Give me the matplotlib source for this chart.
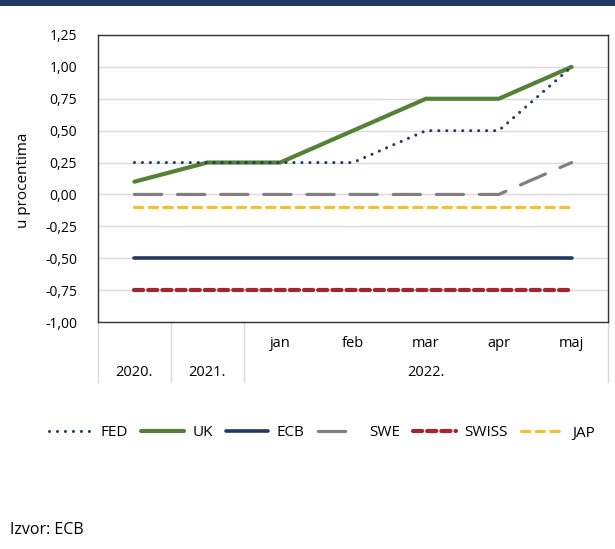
import matplotlib
matplotlib.use("Agg")
import matplotlib.pyplot as plt
from matplotlib.patches import Rectangle
from matplotlib.lines import Line2D
import matplotlib.transforms as mtransforms

plt.rcParams['font.family'] = ['Open Sans', 'DejaVu Sans']

# ---- data ----
categories = ['2020.', '2021.', 'jan', 'feb', 'mar', 'apr', 'maj']
month_labels = ['', '', 'jan', 'feb', 'mar', 'apr', 'maj']
year_labels = ['2020.', '2021.', '2022.']
year_label_pos = [0, 1, 4]
year_separators = [-0.5, 0.5, 1.5, 6.5]

fed = [0.25, 0.25, 0.25, 0.25, 0.50, 0.50, 1.00]
uk = [0.10, 0.25, 0.25, 0.50, 0.75, 0.75, 1.00]
ecb = [-0.50, -0.50, -0.50, -0.50, -0.50, -0.50, -0.50]
swe = [0.00, 0.00, 0.00, 0.00, 0.00, 0.00, 0.25]
swiss = [-0.75, -0.75, -0.75, -0.75, -0.75, -0.75, -0.75]
jap = [-0.10, -0.10, -0.10, -0.10, -0.10, -0.10, -0.10]

y_ticks = [-1.00, -0.75, -0.50, -0.25, 0.00, 0.25, 0.50, 0.75, 1.00, 1.25]
y_tick_labels = ['-1,00', '-0,75', '-0,50', '-0,25', '0,00', '0,25', '0,50', '0,75', '1,00', '1,25']

W, H = 615, 549
fig = plt.figure(figsize=(W / 100, H / 100), dpi=100)

# top navy band
fig.add_artist(Rectangle((0, 1 - 6 / H), 1, 6 / H, transform=fig.transFigure,
                         facecolor='#1e3a5f', edgecolor='none'))

ax_l, ax_r, ax_t, ax_b = 98, 608, 35, 322
ax = fig.add_axes([ax_l / W, 1 - ax_b / H, (ax_r - ax_l) / W, (ax_b - ax_t) / H])

x = list(range(len(categories)))

ax.plot(x, fed, color='#1f3864', lw=2.2, linestyle=(0, (0.01, 2.6)),
        dash_capstyle='round', label='FED', zorder=5)
ax.plot(x, uk, color='#548235', lw=3.0, solid_capstyle='round', label='UK', zorder=4)
ax.plot(x, ecb, color='#1f3864', lw=2.6, solid_capstyle='round', label='ECB', zorder=4)
ax.plot(x, swe, color='#7f7f7f', lw=2.3, linestyle=(0, (8.5, 5.0)),
        dash_capstyle='round', label='SWE', zorder=3)
ax.plot(x, swiss, color='#a5252c', lw=3.0, linestyle=(0, (2.2, 1.2)),
        dash_capstyle='round', label='SWISS', zorder=3)
ax.plot(x, jap, color='#f5bf2f', lw=2.3, linestyle=(0, (2.6, 2.0)),
        dash_capstyle='round', label='JAP', zorder=3)

ax.set_xlim(-0.5, len(categories) - 0.5)
ax.set_ylim(-1.0, 1.25)
ax.set_yticks(y_ticks)
ax.set_yticklabels(y_tick_labels, fontsize=10, color='#000000')
ax.tick_params(axis='y', length=0, pad=15)
ax.set_xticks(x)
ax.set_xticklabels(month_labels, fontsize=10.5, color='#000000')
ax.tick_params(axis='x', length=0, pad=10)

ax.grid(axis='y', color='#d9d9d9', lw=1.0)
ax.set_axisbelow(True)
for s in ax.spines.values():
    s.set_color('#333333')
    s.set_linewidth(1.0)

# year labels and separators below axis
trans = mtransforms.blended_transform_factory(ax.transData, ax.transAxes)
sep_len = (382 - ax_b) / (ax_b - ax_t)
for xs in year_separators:
    ax.add_line(Line2D([xs, xs], [0, -sep_len], transform=trans, color='#d9d9d9',
                       lw=1.0, clip_on=False))
year_y = -(372 - ax_b) / (ax_b - ax_t)
for lbl, p in zip(year_labels, year_label_pos):
    ax.text(p, year_y, lbl, transform=trans, ha='center', va='center', fontsize=10.5)

fig.text(24 / W, 1 - 180 / H, 'u procentima', rotation=90, ha='center', va='center',
         fontsize=11)

leg = fig.legend(loc='center', bbox_to_anchor=(322 / W, 1 - 433 / H), ncol=6,
                 frameon=False, fontsize=11, handlelength=2.8, handletextpad=0.55,
                 columnspacing=0.85)

fig.text(10 / W, 1 - 530 / H, 'Izvor: ECB', ha='left', va='center', fontsize=11.5)

fig.savefig('out.png', dpi=100)
